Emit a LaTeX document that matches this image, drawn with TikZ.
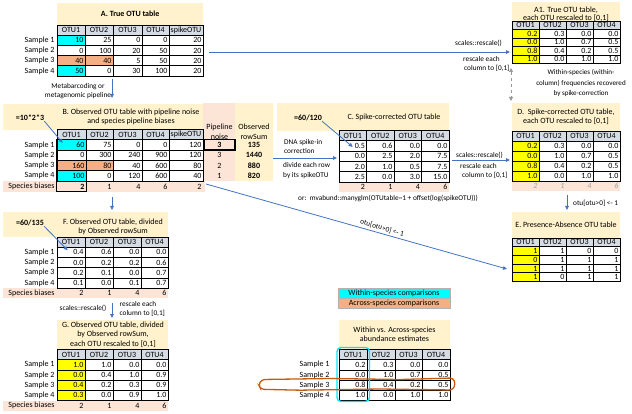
\documentclass[tikz,border=0pt]{standalone}
\usepackage{fontspec}
\setmainfont{Carlito}
\usetikzlibrary{arrows.meta,calc}
\definecolor{beige}{HTML}{FFF2CC}
\definecolor{pinkbg}{HTML}{FCE4D6}
\definecolor{orangec}{HTML}{F4B084}
\definecolor{hdrbg}{HTML}{D6DCE4}
\definecolor{arrowblue}{HTML}{4472C4}
\definecolor{loopbrown}{HTML}{C55A11}
\definecolor{loopcyan}{RGB}{0,230,255}
\definecolor{cyanc}{RGB}{0,255,255}
\definecolor{yellowc}{RGB}{255,255,0}
\newcommand\cellfont{\fontsize{8}{9.5}\selectfont}
\newcommand\boxfont{\fontsize{7.3}{9.5}\selectfont}

\tikzset{
  hdr/.style={draw=black, line width=0.6pt, fill=hdrbg, inner sep=0pt, font=\cellfont},
  cell/.style={draw=black, line width=0.6pt, fill=white, inner xsep=1.5pt, inner ysep=0pt, align=right, font=\cellfont},
  sval/.style={inner xsep=1.5pt, inner ysep=0pt, align=right, font=\cellfont},
  lbl/.style={inner sep=0pt, font=\cellfont, anchor=east},
  ttl/.style={inner sep=0pt, font=\cellfont, align=center},
  note/.style={inner sep=0pt, font=\boxfont},
  bg/.style={inner sep=0pt, draw=none},
  flow/.style={draw=arrowblue, line width=0.8pt, -{Triangle[length=4pt,width=3.6pt]}},
  thickbox/.style={draw=black, line width=1.3pt},
  % highlighted cells
  Ar1c1/.style={fill=cyanc}, Ar4c1/.style={fill=cyanc},
  Ar3c1/.style={fill=orangec}, Ar3c2/.style={fill=orangec},
  Br1c1/.style={fill=cyanc}, Br4c1/.style={fill=cyanc},
  Br3c1/.style={fill=orangec}, Br3c2/.style={fill=orangec},
  AAc1/.style={fill=yellowc}, Dc1/.style={fill=yellowc},
  Ec1/.style={fill=yellowc}, Gc1/.style={fill=yellowc},
  Bs1/.style={font=\cellfont\bfseries},
  Dsall/.style={text=gray!75, font=\cellfont\itshape},
}

% #1 name, #2 column bounds, #3 top y, #4 row height, #5 headers, #6 rows
\newcommand\otutab[6]{%
  \def\otubnd{#2}%
  \foreach \hh [count=\ci] in {#5} {%
    \pgfmathsetmacro\xa{{\otubnd}[\ci-1]}%
    \pgfmathsetmacro\xb{{\otubnd}[\ci]}%
    \node[hdr, minimum width=\xb pt-\xa pt, minimum height=#4pt] (#1-h\ci) at ({(\xa+\xb)/2},{#3+#4/2}) {\hh};
  }%
  \foreach \rowvals [count=\ri] in {#6} {%
    \foreach \vv [count=\ci] in \rowvals {%
      \pgfmathsetmacro\xa{{\otubnd}[\ci-1]}%
      \pgfmathsetmacro\xb{{\otubnd}[\ci]}%
      \pgfmathsetmacro\tw{\xb-\xa-3}%
      \node[cell, text width=\tw pt, minimum height=#4pt, #1c\ci/.try, #1r\ri c\ci/.try] (#1-\ri-\ci) at ({(\xa+\xb)/2},{#3+(\ri+0.5)*#4}) {\vv};
    }%
  }%
}
% #1 name, #2 bounds, #3 top y, #4 height, #5 values
\newcommand\specrow[5]{%
  \def\otubnd{#2}%
  \foreach \vv [count=\ci] in {#5} {%
    \pgfmathsetmacro\xa{{\otubnd}[\ci-1]}%
    \pgfmathsetmacro\xb{{\otubnd}[\ci]}%
    \pgfmathsetmacro\tw{\xb-\xa-3}%
    \node[sval, text width=\tw pt, minimum height=#4pt, #1sall/.try, #1s\ci/.try] (#1-s\ci) at ({(\xa+\xb)/2},{#3+#4/2}) {\vv};
  }%
}
\newcommand\bgbox[6]{\node[bg, fill=#2, minimum width=#5pt, minimum height=#6pt, anchor=north west] (#1) at (#3,#4) {};}
\newcommand\samplelabels[2]{\foreach \ri in {1,...,4} {\node[lbl] (#1-l\ri) at ($(#1-\ri-1.west)+(-#2,0)$) {Sample \ri};}}

\begin{document}
\begin{tikzpicture}[x=1pt,y=-1pt]
\useasboundingbox (0,0) rectangle (632,414);

% ---------------- backgrounds ----------------
\bgbox{Abox}{beige}{57}{3}{146}{22}
\bgbox{Bbox}{beige}{3}{104}{200}{25.5}
\bgbox{Bnoisebg}{pinkbg}{203}{103}{32}{78}
\bgbox{Brsbg}{beige}{235}{103}{38}{78}
\bgbox{Bspec}{pinkbg}{3}{181.3}{202}{10.3}
\bgbox{Cbox}{beige}{277}{103}{172}{27.5}
\bgbox{Cspec}{pinkbg}{339}{181.8}{110}{10.3}
\bgbox{AAbox}{beige}{512}{1.5}{108}{19.5}
\bgbox{Dbox}{beige}{512}{103}{108}{28}
\bgbox{Dspec}{pinkbg}{512}{181}{108}{10}
\bgbox{Ebox}{beige}{512}{212}{108}{26}
\bgbox{Fbox}{beige}{3}{212}{165}{25}
\bgbox{Fspec}{pinkbg}{3}{288}{165}{10.2}
\bgbox{Gbox}{beige}{57}{320}{111}{29.5}
\bgbox{Gspec}{pinkbg}{3}{400.5}{165}{10.2}
\bgbox{Wbox}{beige}{339}{320}{111}{29.5}

% ---------------- table A ----------------
\node[ttl, font=\cellfont\bfseries] (Atitle) at (Abox.center) {A. True OTU table};
\otutab{A}{57,85,113,142,169,203}{25}{10.2}{OTU1,OTU2,OTU3,OTU4,spikeOTU}
  {{10,25,0,0,20},{0,100,20,50,20},{40,40,5,50,20},{50,0,30,100,20}}
\samplelabels{A}{2}
\node[note, align=center] (metab) at (78,91) {Metabarcoding or\\metagenomic pipeline};

% ---------------- table B ----------------
\node[ttl] (Btitle) at (131,117) {B. Observed OTU table with pipeline noise\\and species pipeline biases};
\node[inner sep=0pt, font=\cellfont\bfseries] (Beq) at (30,118) {=10*2*3};
\node[ttl] (Bnoiseh) at (219.5,132) {Pipeline\\noise};
\node[ttl] (Brsh) at (254,132) {Observed\\rowSum};
\otutab{B}{57,86,113,142,169,203}{129.5}{10.3}{OTU1,OTU2,OTU3,OTU4,spikeOTU}
  {{60,75,0,0,120},{0,300,240,900,120},{160,80,40,600,80},{100,0,120,600,40}}
\samplelabels{B}{2}
\specrow{B}{57,86,113,142,169,203}{181.3}{10.3}{2,1,4,6,2}
\node[lbl] (Bsl) at ($(B-s1.west)+(-2,0)$) {Species biases};
\node[thickbox, minimum width=31pt, minimum height=10.3pt, inner sep=0pt, font=\cellfont\bfseries] (Bn1) at (219.5,{129.5+1.5*10.3}) {3};
\foreach \v/\i in {3/2,2/3,1/4} {\node[inner sep=0pt, font=\cellfont] (Bn\i) at (219.5,{129.5+(\i+0.5)*10.3}) {\v};}
\foreach \v [count=\i] in {135,1440,880,820} {\node[inner sep=0pt, font=\cellfont\bfseries] (Br\i) at (254,{129.5+(\i+0.5)*10.3}) {\v};}
\draw[thickbox] (B-1-1.north west) rectangle (Bn1.south east);
\draw[thickbox] (B-1-1.north west) rectangle (B-s1.south east);

% ---------------- table C ----------------
\node[ttl] (Ctitle) at (394,117) {C. Spike-corrected OTU table};
\node[inner sep=0pt, font=\cellfont\bfseries] (Ceq) at (308,118) {=60/120};
\otutab{C}{339,366.5,394,421.5,449}{130.5}{10.3}{OTU1,OTU2,OTU3,OTU4}
  {{0.5,0.6,0.0,0.0},{0.0,2.5,2.0,7.5},{2.0,1.0,0.5,7.5},{2.5,0.0,3.0,15.0}}
\specrow{C}{339,366.5,394,421.5,449}{181.8}{10.3}{2,1,4,6}
\node[note, anchor=west, align=left] (spkin) at (284,146.5) {DNA spike-in\\correction};
\node[note, anchor=west, align=left] (divrow) at (283,170.5) {divide each row\\by its spikeOTU};
\node[note, anchor=west] (mvab) at (298,198) {or:\ \ mvabund::manyglm(OTUtable\textasciitilde 1 + offset(log(spikeOTU)))};

% ---------------- table A1 ----------------
\node[ttl, font=\fontsize{8}{8.4}\selectfont] (AAtitle) at (566,14) {A1. True OTU table,\\each OTU rescaled to [0,1]};
\otutab{AA}{512,539,566,593,620}{21}{8.5}{OTU1,OTU2,OTU3,OTU4}
  {{0.2,0.3,0.0,0.0},{0.0,1.0,0.7,0.5},{0.8,0.4,0.2,0.5},{1.0,0.0,1.0,1.0}}
\node[note, anchor=west] (sr1) at (455,43.5) {scales::rescale()};
\node[note, anchor=west] (re1) at (463,58.5) {rescale each};
\node[note, anchor=west] (co1) at (464,68.3) {column to [0,1]};
\node[note, align=center, font=\fontsize{7.1}{10.8}\selectfont] (within) at (581,83) {Within-species (within-\\column) frequencies recovered\\by spike-correction};

% ---------------- table D ----------------
\node[ttl, font=\fontsize{8}{9}\selectfont] (Dtitle) at (566,116.5) {D.\ \ Spike-corrected OTU table,\\each OTU rescaled to [0,1]};
\otutab{D}{512,539,566,593,620}{131}{10}{OTU1,OTU2,OTU3,OTU4}
  {{0.2,0.3,0.0,0.0},{0.0,1.0,0.7,0.5},{0.8,0.4,0.2,0.5},{1.0,0.0,1.0,1.0}}
\specrow{D}{512,539,566,593,620}{181}{10}{2,1,4,6}
\node[note, anchor=west] (sr2) at (456,155) {scales::rescale()};
\node[note, anchor=west] (re2) at (460,166) {rescale each};
\node[note, anchor=west] (co2) at (462,175) {column to [0,1]};
\node[note, anchor=west] (pa1) at (573,203.3) {otu[otu>0] <- 1};

% ---------------- table E ----------------
\node[ttl] (Etitle) at (566,224.5) {E. Presence-Absence OTU table};
\otutab{E}{512,539,566,593,620}{238}{8.7}{OTU1,OTU2,OTU3,OTU4}
  {{1,1,0,0},{0,1,1,1},{1,1,1,1},{1,0,1,1}}

% ---------------- table F ----------------
\node[ttl] (Ftitle) at (113,227) {F. Observed OTU table, divided\\by Observed rowSum};
\node[inner sep=0pt, font=\cellfont\bfseries] (Feq) at (30,223) {=60/135};
\otutab{F}{57,85,113,141,168}{237}{10.2}{OTU1,OTU2,OTU3,OTU4}
  {{0.4,0.6,0.0,0.0},{0.0,0.2,0.2,0.6},{0.2,0.1,0.0,0.7},{0.1,0.0,0.1,0.7}}
\samplelabels{F}{2}
\specrow{F}{57,85,113,141,168}{288}{10.2}{2,1,4,6}
\node[lbl] (Fsl) at ($(F-s1.west)+(-2,0)$) {Species biases};

% ---------------- table G ----------------
\node[note] (sr3) at (83,308.3) {scales::rescale()};
\node[note, anchor=west] (re3) at (119.5,304) {rescale each};
\node[note, anchor=west] (co3) at (119.5,313.3) {column to [0,1]};
\node[ttl] (Gtitle) at (113,334.7) {G. Observed OTU table, divided\\by Observed rowSum,\\each OTU rescaled to [0,1]};
\otutab{G}{57,85,113,141,168}{349.5}{10.2}{OTU1,OTU2,OTU3,OTU4}
  {{1.0,1.0,0.0,0.0},{0.0,0.4,1.0,0.9},{0.4,0.2,0.3,0.9},{0.3,0.0,0.9,1.0}}
\samplelabels{G}{2}
\specrow{G}{57,85,113,141,168}{400.5}{10.2}{2,1,4,6}
\node[lbl] (Gsl) at ($(G-s1.west)+(-2,0)$) {Species biases};

% ---------------- legend and summary table ----------------
\node[draw=gray!60, line width=0.4pt, fill=cyanc, minimum width=112pt, minimum height=10pt, inner sep=0pt, font=\cellfont] (legW) at (394,293) {Within-species comparisons};
\node[draw=gray!60, line width=0.4pt, fill=orangec, minimum width=112pt, minimum height=10pt, inner sep=0pt, font=\cellfont] (legA) at (394,303) {Across-species comparisons};
\node[ttl, font=\fontsize{8}{9}\selectfont] (Wtitle) at (394.5,334.7) {Within vs. Across-species\\abundance estimates};
\otutab{W}{339,367,395,422,450}{349.5}{10.2}{OTU1,OTU2,OTU3,OTU4}
  {{0.2,0.3,0.0,0.0},{0.0,1.0,0.7,0.5},{0.8,0.4,0.2,0.5},{1.0,0.0,1.0,1.0}}
\samplelabels{W}{9}
\draw[loopcyan, line width=1.4pt, rounded corners=4pt] (337,347.5) rectangle (369.5,401.5);
\draw[loopbrown, line width=1.3pt, rounded corners=3pt]
  (262,379.5) -- (330,378.5) -- (400,379.5) -- (453,378) -- (455.5,384) -- (452.5,390)
  -- (380,389) -- (300,390.2) -- (261,389.3) -- (258.5,384.5) -- cycle;

% ---------------- connectors ----------------
\coordinate (a1s) at (112,79);   \coordinate (a1e) at (112,98);
\coordinate (a2s) at (112,197);  \coordinate (a2e) at (112,210);
\coordinate (a3s) at (112,303);  \coordinate (a3e) at (112,318);
\coordinate (a4s) at (209,52);   \coordinate (a4e) at (510,52);
\coordinate (a5s) at (273,158);  \coordinate (a5e) at (337,158);
\coordinate (a6s) at (452,160);  \coordinate (a6e) at (510,160);
\coordinate (a7s) at (567,195);  \coordinate (a7e) at (567,210);
\coordinate (a8s) at (206,184);  \coordinate (a8e) at (507,269);
\coordinate (dks) at (511,68);   \coordinate (dke) at (511,101);
\draw[flow] (a1s) -- (a1e);
\draw[flow] (a2s) -- (a2e);
\draw[flow] (a3s) -- (a3e);
\draw[flow] (a4s) -- (a4e);
\draw[flow] (a5s) -- (a5e);
\draw[flow] (a6s) -- (a6e);
\draw[flow] (a7s) -- (a7e);
\draw[flow] (a8s) -- node[pos=0.58, sloped, above=2pt, note] {otu[otu>0] <- 1} (a8e);
\draw[draw=gray!80, line width=0.9pt, dashed, {Triangle[length=4pt,width=4pt]}-{Triangle[length=4pt,width=4pt]}] (dks) -- (dke);
\draw[flow] (Beq.south east) -- ($(B-1-1.west)+(6,-2)$);
\draw[flow] (Feq.south east) -- ($(F-1-1.west)+(11,-2)$);
\draw[flow] (Ceq.south east) -- ($(C-1-1.west)+(14,1)$);
\end{tikzpicture}
\end{document}
